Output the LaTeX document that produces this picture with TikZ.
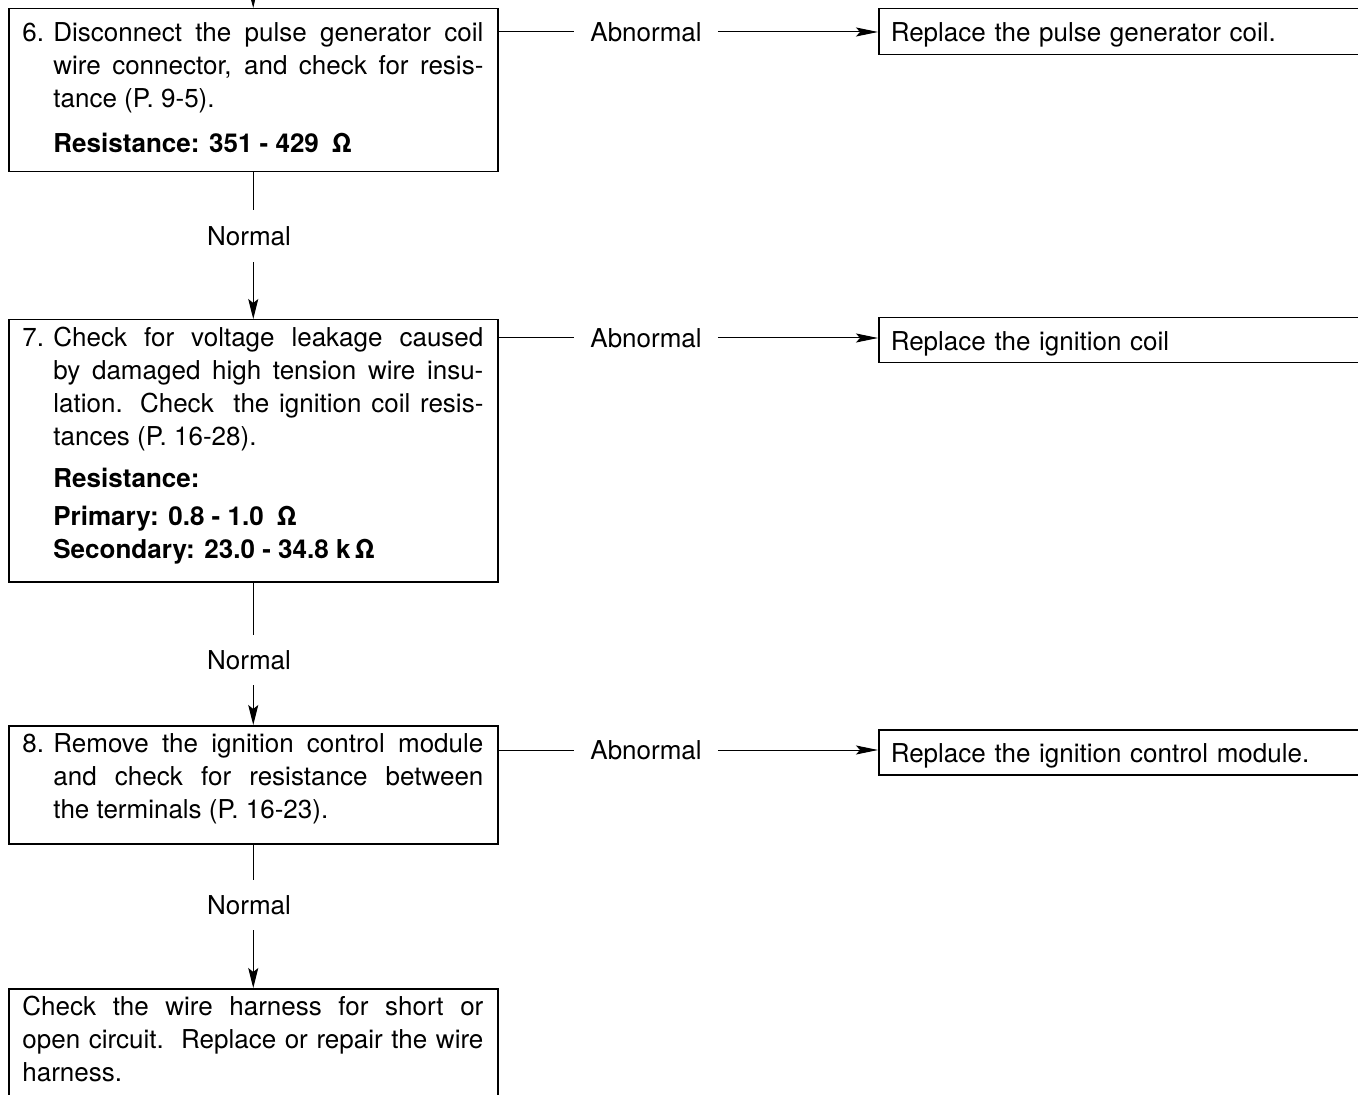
\documentclass[tikz,border=0pt]{standalone}
\usepackage{fontspec}
\setmainfont{TeX Gyre Heros}
\usetikzlibrary{arrows.meta}
\newcommand\mainsz{\fontsize{13pt}{16.5pt}\selectfont\parskip=0pt\parindent=0pt}
\newcommand\numitem[1]{\hangindent=15.5pt\hangafter=1\makebox[15.5pt][l]{#1}}
\newcommand\ind{\hspace*{15.5pt}}
\begin{document}
\begin{tikzpicture}[x=0.5pt,y=-0.5pt,
  box/.style={draw, line width=0.75pt, rectangle, inner sep=0pt, anchor=north west, minimum width=244.5pt},
  rbox/.style={draw, line width=0.75pt, rectangle, anchor=north west, inner xsep=6pt, inner ysep=0pt, text width=234pt, text height=10pt, text depth=0pt, align=left, font=\mainsz},
  txt/.style={anchor=north west, inner sep=0pt, text width=230.5pt, align=justify, font=\mainsz},
  lab/.style={inner sep=0pt, font=\mainsz},
  conn/.style={line width=0.5pt},
  harr/.style={conn, -{Stealth[length=11pt,width=4.5pt,inset=2pt]}},
  varr/.style={conn, -{Stealth[length=10pt,width=5pt,inset=2pt]}},
]
\useasboundingbox (0,0) rectangle (1358,1095);
\fill[white] (0,0) rectangle (1358,1095);
\clip (0,0) rectangle (1358,1095);

% left boxes
\node[box, minimum height=81.5pt] (b6) at (8,8) {};
\node[box, minimum height=131pt] (b7) at (8,319) {};
\node[box, minimum height=59pt] (b8) at (8,725) {};
\node[box, minimum height=65pt] (b9) at (8,988) {};

% texts
\node[txt] (t6) at (22,21) {\numitem{6.}\rule{0pt}{10pt}Disconnect the pulse generator coil\linebreak wire connector, and check for resis-\linebreak tance (P.~9-5).\par
\vspace{6pt}\ind\textbf{Resistance: 351 - 429\enspace Ω}};

\node[txt] (t7) at (22,326) {\numitem{7.}\rule{0pt}{10pt}Check for voltage leakage caused\linebreak by damaged high tension wire insu-\linebreak lation. Check\ \ the ignition coil resis-\linebreak tances (P.~16-28).\par
\vspace{4.5pt}\ind\textbf{Resistance:}\par
\vspace{2.5pt}\ind\textbf{Primary: 0.8 - 1.0\enspace Ω}\par
\ind\textbf{Secondary: 23.0 - 34.8 k\,Ω}};

\node[txt] (t8) at (22,732) {\numitem{8.}\rule{0pt}{10pt}Remove the ignition control module\linebreak and check for resistance between\linebreak the terminals (P.~16-23).\par};

\node[txt] (t9) at (22,995) {\rule{0pt}{10pt}Check the wire harness for short or\linebreak open circuit.\ \ Replace or repair the wire\linebreak harness.\par};

% right boxes
\node[rbox, minimum height=23pt] (r1) at (878,8) {Replace the pulse generator coil.};
\node[rbox, minimum height=22.5pt] (r2) at (878,317) {Replace the ignition coil};
\node[rbox, minimum height=22.5pt] (r3) at (878,729) {Replace the ignition control module.};

% Abnormal labels
\node[lab, minimum width=71.5pt] (a1) at (646,32) {Abnormal};
\node[lab, minimum width=71.5pt] (a2) at (646,338) {Abnormal};
\node[lab, minimum width=71.5pt] (a3) at (646,750) {Abnormal};

% Normal labels
\node[lab, minimum height=26pt] (n1) at (249,236) {Normal};
\node[lab, minimum height=25pt] (n2) at (249,660) {Normal};
\node[lab, minimum height=25pt] (n3) at (249,905) {Normal};

% top incoming arrow
\coordinate (top) at (252.5,-30);
\draw[varr] (top) -- (b6.north);

% normal connectors
\draw[conn] (b6.south) -- (b6.south |- n1.north);
\draw[varr] (b6.south |- n1.south) -- (b7.north);
\draw[conn] (b7.south) -- (b7.south |- n2.north);
\draw[varr] (b7.south |- n2.south) -- (b8.north);
\draw[conn] (b8.south) -- (b8.south |- n3.north);
\draw[varr] (b8.south |- n3.south) -- (b9.north);

% abnormal connectors
\draw[conn] (b6.east |- a1) -- (a1.west);
\draw[harr] (a1.east) -- (a1 -| r1.west);
\draw[conn] (b7.east |- a2) -- (a2.west);
\draw[harr] (a2.east) -- (a2 -| r2.west);
\draw[conn] (b8.east |- a3) -- (a3.west);
\draw[harr] (a3.east) -- (a3 -| r3.west);
\end{tikzpicture}
\end{document}
